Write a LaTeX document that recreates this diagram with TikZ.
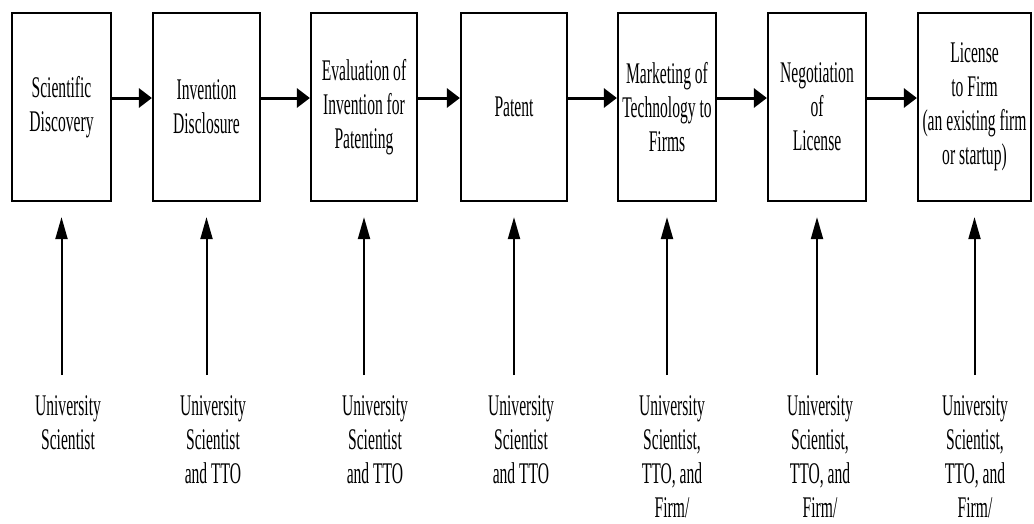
\documentclass[tikz,border=0pt]{standalone}
\usepackage{fontspec}
\setmainfont[FakeStretch=0.52]{Liberation Serif}
\usetikzlibrary{arrows.meta}

\begin{document}
\begin{tikzpicture}
  [x=1pt,y=-1pt,
   every node/.style={font=\fontsize{30}{34}\selectfont,align=center,inner sep=0pt},
   stage/.style={draw,line width=2.2pt,minimum height=188pt},
   flow/.style={-{Triangle[length=13pt,width=19pt]},line width=3pt},
   actor/.style={-{Triangle[length=22pt,width=12pt]},line width=2pt}]
  \useasboundingbox (0,0) rectangle (1034,523);
  \node[stage,minimum width=99pt] (b1) at (61.5,107) {Scientific\\Discovery};
  \node[stage,minimum width=107pt] (b2) at (206.5,107) {Invention\\Disclosure};
  \node[stage,minimum width=106pt] (b3) at (364,107) {Evaluation of\\Invention for\\Patenting};
  \node[stage,minimum width=106pt] (b4) at (514,107) {Patent};
  \node[stage,minimum width=98pt] (b5) at (667,107) {Marketing of\\Technology to\\Firms};
  \node[stage,minimum width=98pt] (b6) at (817,107) {Negotiation\\of\\License};
  \node[stage,minimum width=113pt] (b7) at (974.5,107) {License\\to Firm\\(an existing firm\\or startup)};
  \node[anchor=north] (p1) at (68,395) {University\\Scientist};
  \node[anchor=north] (p2) at (213,395) {University\\Scientist\\and TTO};
  \node[anchor=north] (p3) at (375,395) {University\\Scientist\\and TTO};
  \node[anchor=north] (p4) at (521,395) {University\\Scientist\\and TTO};
  \node[anchor=north] (p5) at (672,395) {University\\Scientist,\\TTO, and\\Firm/};
  \node[anchor=north] (p6) at (820,395) {University\\Scientist,\\TTO, and\\Firm/};
  \node[anchor=north] (p7) at (975,395) {University\\Scientist,\\TTO, and\\Firm/};
  \foreach \from/\to in {b1/b2,b2/b3,b3/b4,b4/b5,b5/b6,b6/b7}
    \draw[flow] ([yshift=9pt]\from.east) -- ([yshift=9pt]\to.west);
  \foreach \i in {1,...,7}
    \draw[actor,shorten >=15pt] ([yshift=20pt]p\i.north -| b\i) -- (b\i.south);
\end{tikzpicture}
\end{document}
